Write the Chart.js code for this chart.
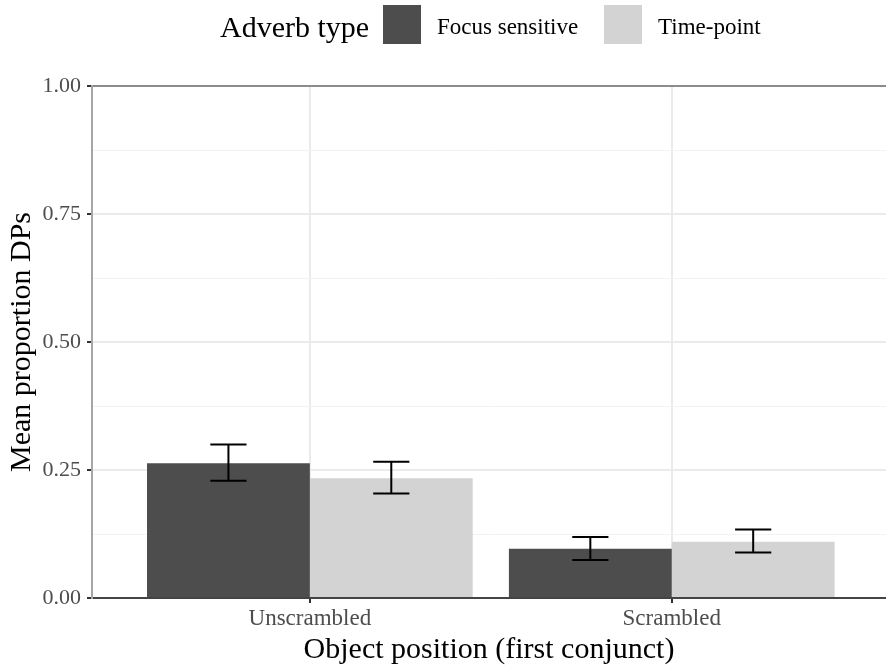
<!DOCTYPE html>
<html>
<head>
<meta charset="utf-8">
<script src="https://cdn.jsdelivr.net/npm/chart.js@4.4.1/dist/chart.umd.min.js"></script>
<style>
  html, body { margin: 0; padding: 0; background: #fff; }
  #wrap { position: relative; width: 886px; height: 667px; }
  #legend { position: absolute; top: 0; left: 0; width: 886px; height: 50px;
    font-family: 'Liberation Serif', serif; color: #000; }
  #legend span { position: absolute; white-space: nowrap; }
  #legend .title { font-size: 30px; top: 10px; }
  #legend .box { width: 38px; height: 39px; top: 5px; }
  #legend .lab { font-size: 23px; top: 14px; }
</style>
</head>
<body>
<div id="wrap">
  <canvas id="chart" width="886" height="667"></canvas>
  <div id="legend"></div>
</div>
<script>
// data
const categories = ['Unscrambled', 'Scrambled'];
const seriesNames = ['Focus sensitive', 'Time-point'];
const focusMean = [0.263, 0.096];
const focusLow = [0.229, 0.074];
const focusHigh = [0.300, 0.119];
const timeMean = [0.234, 0.110];
const timeLow = [0.204, 0.089];
const timeHigh = [0.266, 0.134];
const yTicks = [0, 0.25, 0.5, 0.75, 1];

const gColors = ['#4d4d4d', '#d3d3d3'];
const gFont = "'Liberation Serif', serif";

// legend (html)
const gBoxLeft = [383, 604];
const gLabLeft = [437, 658];
let vLegendHtml = '<span class="title" style="left:220px">Adverb type</span>';
seriesNames.forEach((name, i) => {
  vLegendHtml += `<span class="box" style="left:${gBoxLeft[i]}px;background:${gColors[i]}"></span>`;
  vLegendHtml += `<span class="lab" style="left:${gLabLeft[i]}px">${name}</span>`;
});
document.getElementById('legend').innerHTML = vLegendHtml;

function toPoints(values) {
  return values.map((v, i) => ({ x: i + 1, y: v }));
}

function isMajor(value) {
  return yTicks.some((t) => Math.abs(t - value) < 1e-6);
}

// error bars drawn through the chart's own scales
const errorBarPlugin = {
  id: 'errorBars',
  afterDatasetsDraw(chart) {
    const ctx = chart.ctx;
    const xScale = chart.scales.x;
    const yScale = chart.scales.y;
    const lows = [focusLow, timeLow];
    const highs = [focusHigh, timeHigh];
    const capHalf = xScale.getPixelForValue(1.05) - xScale.getPixelForValue(1);
    ctx.save();
    ctx.strokeStyle = '#000';
    ctx.lineWidth = 2;
    chart.data.datasets.forEach((ds, di) => {
      const meta = chart.getDatasetMeta(di);
      meta.data.forEach((bar, i) => {
        const x = bar.x;
        const yLo = yScale.getPixelForValue(lows[di][i]);
        const yHi = yScale.getPixelForValue(highs[di][i]);
        ctx.beginPath();
        ctx.moveTo(x, yLo);
        ctx.lineTo(x, yHi);
        ctx.moveTo(x - capHalf, yLo);
        ctx.lineTo(x + capHalf, yLo);
        ctx.moveTo(x - capHalf, yHi);
        ctx.lineTo(x + capHalf, yHi);
        ctx.stroke();
      });
    });
    ctx.restore();
  },
};

new Chart(document.getElementById('chart'), {
  type: 'bar',
  data: {
    datasets: [
      { label: seriesNames[0], data: toPoints(focusMean), backgroundColor: gColors[0] },
      { label: seriesNames[1], data: toPoints(timeMean), backgroundColor: gColors[1] },
    ],
  },
  options: {
    responsive: false,
    animation: false,
    layout: { padding: { top: 86, right: 0, left: 0, bottom: 0 } },
    categoryPercentage: 0.9,
    barPercentage: 1.0,
    plugins: {
      legend: { display: false },
      tooltip: { enabled: false },
    },
    scales: {
      x: {
        type: 'linear',
        min: 0.398,
        max: 2.592,
        offset: false,
        afterBuildTicks: (scale) => {
          scale.ticks = categories.map((c, i) => ({ value: i + 1 }));
        },
        afterFit: (scale) => { scale.height = 69; },
        ticks: {
          callback: (value) => categories[Math.round(value) - 1] || '',
          color: '#4d4d4d',
          font: { family: gFont, size: 23 },
          padding: 2,
          maxRotation: 0,
        },
        grid: {
          offset: false,
          color: '#ebebeb',
          lineWidth: 2,
          tickColor: '#333333',
          tickLength: 5,
          tickWidth: 2,
        },
        border: { color: '#444444', width: 2 },
        title: {
          display: true,
          text: 'Object position (first conjunct)',
          color: '#000',
          font: { family: gFont, size: 30, lineHeight: 1.1 },
          padding: { top: 0, bottom: 0 },
        },
      },
      y: {
        min: 0,
        max: 1,
        afterFit: (scale) => { scale.width = 92; },
        ticks: {
          stepSize: 0.125,
          callback: (value) => (isMajor(value) ? value.toFixed(2) : ''),
          color: '#4d4d4d',
          font: { family: gFont, size: 22 },
          padding: 6,
        },
        grid: {
          color: (ctx) => {
            if (ctx.tick && Math.abs(ctx.tick.value - 1) < 1e-6) return '#8c8c8c';
            return ctx.tick && isMajor(ctx.tick.value) ? '#ebebeb' : '#f3f3f3';
          },
          lineWidth: (ctx) => (ctx.tick && isMajor(ctx.tick.value) ? 2 : 1),
          tickColor: (ctx) => (ctx.tick && isMajor(ctx.tick.value) ? '#333333' : 'rgba(0,0,0,0)'),
          tickLength: 5,
          tickWidth: 2,
        },
        border: { color: '#a6a6a6', width: 2 },
        title: {
          display: true,
          text: 'Mean proportion DPs',
          color: '#000',
          font: { family: gFont, size: 30, lineHeight: 1.1 },
          padding: 6,
        },
      },
    },
  },
  plugins: [errorBarPlugin],
});
</script>
</body>
</html>
